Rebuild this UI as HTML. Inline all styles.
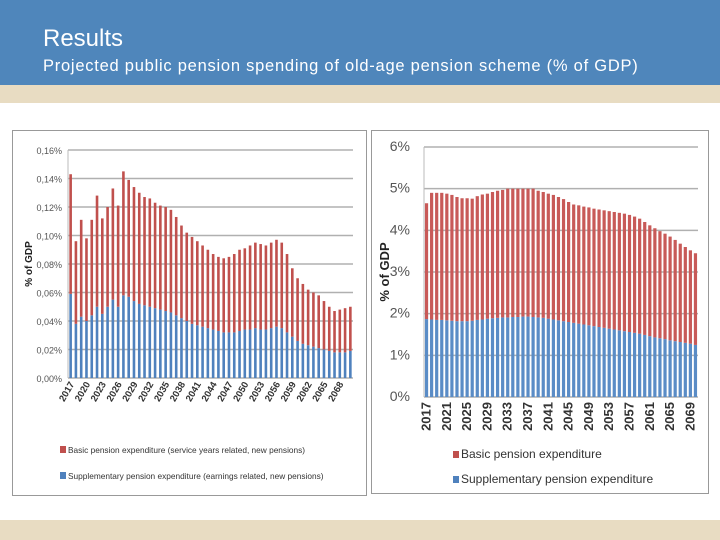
<!DOCTYPE html>
<html><head><meta charset="utf-8"><style>
body{margin:0;width:720px;height:540px;overflow:hidden;background:#fff;font-family:"Liberation Sans",sans-serif;position:relative}
#hdr{position:absolute;left:0;top:0;width:720px;height:85px;background:#4f86bb}
#t1{position:absolute;left:43px;top:25px;color:#fff;font-size:24px}
#t2{position:absolute;left:43px;top:57px;color:#fff;font-size:16.5px;letter-spacing:0.75px}
.beige{position:absolute;left:0;width:720px;background:#e8dcc2}
</style></head><body>
<div id="hdr">
<div id="t1">Results</div>
<div id="t2">Projected public pension spending of old-age pension scheme (% of GDP)</div>
</div>
<div class="beige" style="top:85px;height:18px"></div>
<div class="beige" style="top:520px;height:20px"></div>
<svg id="svg" width="720" height="540" style="position:absolute;left:0;top:0"></svg>
<script>
const leftSupp=[0.059,0.038,0.043,0.040,0.044,0.050,0.045,0.050,0.055,0.050,0.058,0.057,0.054,0.052,0.051,0.050,0.049,0.048,0.047,0.046,0.044,0.042,0.040,0.038,0.037,0.036,0.035,0.034,0.033,0.032,0.032,0.032,0.033,0.034,0.034,0.035,0.034,0.034,0.035,0.036,0.035,0.032,0.029,0.026,0.024,0.023,0.022,0.021,0.020,0.019,0.018,0.018,0.018,0.019];
const leftBasic=[0.084,0.058,0.068,0.058,0.067,0.078,0.067,0.070,0.078,0.071,0.087,0.082,0.080,0.078,0.076,0.076,0.074,0.073,0.073,0.072,0.069,0.065,0.062,0.061,0.059,0.057,0.055,0.053,0.052,0.052,0.053,0.055,0.057,0.057,0.059,0.060,0.060,0.059,0.060,0.061,0.060,0.055,0.048,0.044,0.042,0.039,0.038,0.037,0.034,0.031,0.029,0.030,0.031,0.031];
const leftTicks=["0,00%","0,02%","0,04%","0,06%","0,08%","0,10%","0,12%","0,14%","0,16%"];
const rightTotal=[4.65,4.9,4.9,4.9,4.88,4.85,4.8,4.77,4.77,4.76,4.82,4.86,4.88,4.92,4.95,4.97,5.0,5.0,5.0,5.0,5.0,5.0,4.95,4.92,4.88,4.85,4.8,4.75,4.68,4.62,4.6,4.57,4.55,4.52,4.5,4.48,4.46,4.44,4.42,4.4,4.37,4.33,4.28,4.2,4.12,4.05,3.98,3.92,3.85,3.77,3.68,3.6,3.52,3.45];
const rightSupp=[1.87,1.86,1.85,1.85,1.84,1.83,1.82,1.82,1.82,1.83,1.85,1.86,1.88,1.89,1.90,1.91,1.91,1.92,1.92,1.93,1.93,1.92,1.91,1.90,1.88,1.86,1.84,1.82,1.80,1.78,1.76,1.74,1.72,1.70,1.68,1.66,1.64,1.62,1.60,1.58,1.56,1.54,1.52,1.49,1.46,1.43,1.41,1.39,1.36,1.34,1.32,1.30,1.28,1.25];
const rightTicks=["0%","1%","2%","3%","4%","5%","6%"];
const startYear=2017;
const NS="http://www.w3.org/2000/svg";
const svg=document.getElementById('svg');
function mk(tag,attrs,parent){const e=document.createElementNS(NS,tag);for(const k in attrs)e.setAttribute(k,attrs[k]);(parent||svg).appendChild(e);return e;}

let b=mk('rect',{x:12.5,y:130.5,width:354,height:365,fill:'#fff',stroke:'#999'});


b=mk('rect',{x:371.5,y:130.5,width:337,height:363,fill:'#fff',stroke:'#999'});



function chart(o){
  const n=o.supp.length;
  const y=v=>o.y0-(v/o.max)*(o.y0-o.y1);
  const slot=(o.x1-o.x0)/n;
  const x=i=>o.x0+i*slot;
  o.ticks.forEach((t,i)=>{
    const v=o.max*i/(o.ticks.length-1);
    const g=mk('line',{x1:o.x0,x2:o.x1,y1:y(v),y2:y(v),stroke:'#b0b0b0','stroke-width':1.5});
    
    
    const tx=mk('text',{x:o.x0-o.tickGap,y:y(v)+4,'text-anchor':'end','font-size':o.tickSize,fill:'#555'});
    tx.textContent=t;
    
    
  });
  mk('line',{x1:o.x0,x2:o.x0,y1:o.y1,y2:o.y0,stroke:'#bbb'});
  for(let i=0;i<n;i++){
    const s=o.supp[i], bs=o.basic(i);
    const r1=mk('rect',{x:x(i)+(slot-o.bw)/2,y:y(s),width:o.bw,height:o.y0-y(s),fill:o.blue});
    
    
    const r2=mk('rect',{x:x(i)+(slot-o.bw)/2,y:y(s+bs),width:o.bw,height:y(s)-y(s+bs),fill:o.red});
    
    
    if((i%o.step)===0){
      const cx=x(i)+slot/2;
      const tl=mk('text',{transform:`translate(${cx+o.lx},${o.y0+o.ly}) rotate(${o.rot})`,'text-anchor':'end','font-size':o.xSize,'font-weight':o.xBold,fill:'#333'});
      tl.textContent=String(startYear+i);
      
      
    }
  }
  const at=mk('text',{transform:`translate(${o.axX},${(o.y0+o.y1)/2}) rotate(-90)`,'text-anchor':'middle','font-size':o.axSize,'font-weight':'bold',fill:'#222'});
  at.textContent='% of GDP';
  
  
}
chart({supp:leftSupp,basic:i=>leftBasic[i],ticks:leftTicks,max:0.16,x0:68,x1:353,y0:378,y1:150,bw:2.6,step:3,rot:-60,lx:4,ly:6,xSize:9.5,xBold:'bold',tickSize:9,tickGap:6,axX:32,axSize:10,red:'#c0504d',blue:'#4f81bd'});
chart({supp:rightSupp,basic:i=>rightTotal[i]-rightSupp[i],ticks:rightTicks,max:6,x0:424,x1:698,y0:397,y1:147,bw:3.2,step:4,rot:-90,lx:4,ly:5,xSize:13,xBold:'bold',tickSize:14,tickGap:14,axX:389,axSize:13,red:'#c85a58',blue:'#5a8cc6'});

function legend(x,y,c,txt,fs,name){
  const r=mk('rect',{x:x,y:y-7,width:6,height:7,fill:c});
  
  
  const t=mk('text',{x:x+8,y:y,'font-size':fs,fill:'#333'});
  t.textContent=txt;
  
  
}
legend(60,453,'#c0504d','Basic pension expenditure (service years related, new pensions)',8.3,'legend-basic-left');
legend(60,479,'#4f81bd','Supplementary pension expenditure (earnings related, new pensions)',8.3,'legend-supp-left');
legend(453,458,'#c0504d','Basic pension expenditure',12,'legend-basic-right');
legend(453,483,'#4f81bd','Supplementary pension expenditure',12,'legend-supp-right');
</script>
</body></html>
